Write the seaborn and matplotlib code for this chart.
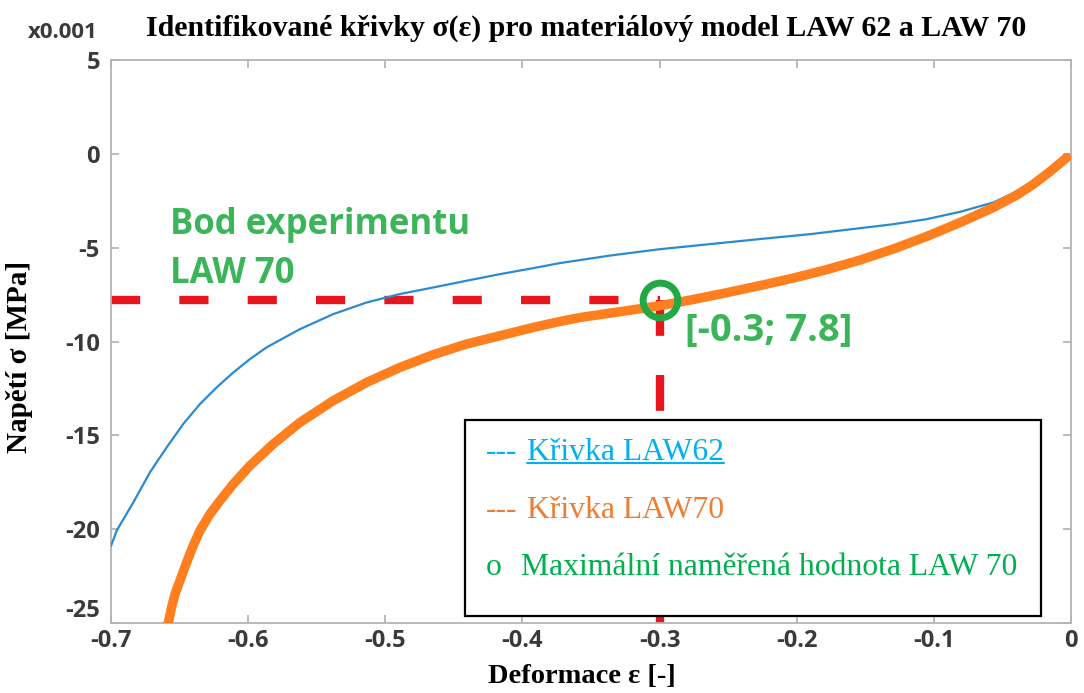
import matplotlib
matplotlib.use("Agg")
import matplotlib.pyplot as plt
from matplotlib.patches import Rectangle
from matplotlib.lines import Line2D
import seaborn as sns
import pandas as pd

# Identified stress-strain curves for LAW 62 and LAW 70
law62_strain = [-0.700, -0.6958, -0.6837, -0.6716, -0.6594, -0.6473, -0.6351,
                -0.6229, -0.6108, -0.5986, -0.5865, -0.5622, -0.5379, -0.5136,
                -0.4893, -0.4650, -0.4406, -0.4163, -0.3921, -0.3726, -0.3580,
                -0.3361, -0.2997, -0.2632, -0.2268, -0.1903, -0.1538, -0.1296,
                -0.1052, -0.0809, -0.0566, -0.0445, -0.0323, -0.0226, -0.0153,
                -0.0031]
law62_stress = [-20.9, -20.07, -18.57, -16.97, -15.64, -14.39, -13.33,
                -12.44, -11.65, -10.93, -10.31, -9.34, -8.54, -7.92,
                -7.47, -7.12, -6.76, -6.41, -6.09, -5.82, -5.66,
                -5.42, -5.08, -4.81, -4.54, -4.28, -3.96, -3.75,
                -3.48, -3.09, -2.59, -2.18, -1.70, -1.26, -0.82,
                -0.11]

law70_strain = [-0.6594, -0.6582, -0.6558, -0.6533, -0.6497, -0.6448, -0.6400,
                -0.6351, -0.6278, -0.6205, -0.6108, -0.5986, -0.5817, -0.5622,
                -0.5379, -0.5136, -0.4893, -0.4650, -0.4406, -0.4163, -0.3921,
                -0.3726, -0.3580, -0.3240, -0.2997, -0.2754, -0.2511, -0.2268,
                -0.2025, -0.1782, -0.1538, -0.1296, -0.1052, -0.0809, -0.0566,
                -0.0396, -0.0274, -0.0153, -0.0031]
law70_stress = [-25.3, -24.96, -24.16, -23.45, -22.74, -21.76, -20.87,
                -20.07, -19.19, -18.48, -17.59, -16.61, -15.46, -14.31,
                -13.15, -12.18, -11.38, -10.70, -10.13, -9.69, -9.25,
                -8.93, -8.72, -8.36, -8.09, -7.76, -7.40, -7.02,
                -6.62, -6.17, -5.66, -5.07, -4.40, -3.66, -2.86,
                -2.20, -1.62, -0.94, -0.20]

# Maximum measured value for LAW 70: [strain; |stress|]
exp_strain = -0.3
exp_stress_abs = 7.8

x_ticks = [-0.7, -0.6, -0.5, -0.4, -0.3, -0.2, -0.1, 0]
x_tick_labels = ["-0.7", "-0.6", "-0.5", "-0.4", "-0.3", "-0.2", "-0.1", "0"]
y_ticks = [-25, -20, -15, -10, -5, 0, 5]
y_tick_labels = ["-25", "-20", "-15", "-10", "-5", "0", "5"]

sns.set_theme(style="white")
plt.rcParams["axes.unicode_minus"] = False
plt.rcParams["font.family"] = ["DejaVu Sans"]

df62 = pd.DataFrame({"strain": law62_strain, "stress": law62_stress})
df70 = pd.DataFrame({"strain": law70_strain, "stress": law70_stress})

fig = plt.figure(figsize=(10.84, 6.93), dpi=100)
ax = fig.add_axes([0.1024, 0.101, 0.8856, 0.8124])

sns.lineplot(data=df62, x="strain", y="stress", ax=ax, color="#2b8ad0",
             linewidth=1.6, sort=False, zorder=3)
sns.lineplot(data=df70, x="strain", y="stress", ax=ax, color="#ff7f1e",
             linewidth=6.8, sort=False, zorder=4, solid_capstyle="round",
             solid_joinstyle="round")

exp_stress = -exp_stress_abs
red = "#e8141e"
ax.plot([-0.7, exp_strain], [exp_stress, exp_stress], color=red, lw=6,
        dashes=(3.5, 4.7), dash_capstyle="butt", zorder=2)
ax.plot([exp_strain, exp_strain], [exp_stress, -25], color=red, lw=6,
        dashes=(4.3, 4.7), dash_capstyle="butt", zorder=2)
ax.plot([exp_strain], [exp_stress], marker="o", ms=25, mfc="none",
        mec="#22a845", mew=5, zorder=6, clip_on=False)

ax.set_xlim(-0.7, 0)
ax.set_ylim(-25, 5)
ax.set_xticks(x_ticks)
ax.set_xticklabels(x_tick_labels)
ax.set_yticks(y_ticks)
ax.set_yticklabels(y_tick_labels)

for lab in ax.get_xticklabels() + ax.get_yticklabels():
    lab.set_fontfamily("Open Sans")
    lab.set_fontweight("bold")
    lab.set_fontsize(17)
    lab.set_color("#3a3a3a")
# lift the lowest stress label clear of the strain labels
ax.get_yticklabels()[0].set_verticalalignment("bottom")

ax.tick_params(axis="both", direction="in", length=6, width=1.1,
               color="#a8a8a8", top=True, right=True, bottom=True, left=True)
ax.tick_params(axis="y", pad=8)
ax.tick_params(axis="x", pad=4)
for sp in ax.spines.values():
    sp.set_color("#b4b4b4")
    sp.set_linewidth(1.3)

serif = "Liberation Serif"
ax.set_xlabel("Deformace ε [-]", fontfamily=serif, fontweight="bold",
              fontsize=20.5, color="black")
ax.xaxis.set_label_coords(0.4906, -0.073)
ax.set_ylabel("Napětí σ [MPa]", fontfamily=serif, fontweight="bold",
              fontsize=21, color="black")
ax.yaxis.set_label_coords(-0.081, 0.4725)
fig.text(0.541, 0.9596, "Identifikované křivky σ(ε) pro materiálový model LAW 62 a LAW 70",
         ha="center", va="center", fontfamily=serif, fontweight="bold",
         fontsize=21.5, color="black")
fig.text(0.026, 0.953, "x0.001", ha="left", va="center", fontfamily="Open Sans",
         fontweight="bold", fontsize=16, color="#3a3a3a")

green_txt = "#3cb45a"
ax.text(-0.657, -5.1, "Bod experimentu\nLAW 70", ha="left", va="center",
        fontfamily="Open Sans", fontweight="bold", fontsize=25,
        color=green_txt, linespacing=1.45, zorder=7)
ax.text(-0.2815, -9.42, "[-0.3; 7.8]", ha="left", va="center",
        fontfamily="Open Sans", fontweight="bold", fontsize=27.5,
        color=green_txt, zorder=7)

# Text box with the curve descriptions
def fx(px):
    return (px - 111) / 960.0

def fy(py):
    return (623 - py) / 563.0

box = Rectangle((fx(465), fy(616)), fx(1041) - fx(465), fy(420) - fy(616),
                transform=ax.transAxes, facecolor="white", edgecolor="black",
                linewidth=1.6, zorder=8)
ax.add_patch(box)

leg_size = 22.8
blue_txt = "#00b0f0"
orange_txt = "#ed7d31"
green_leg = "#00b050"
ax.text(fx(486), fy(452), "---", transform=ax.transAxes, ha="left", va="center",
        fontfamily=serif, fontsize=leg_size, color=blue_txt, zorder=9)
t62 = ax.text(fx(527), fy(452), "Křivka LAW62", transform=ax.transAxes, ha="left",
              va="center", fontfamily=serif, fontsize=leg_size, color=blue_txt, zorder=9)
ax.text(fx(486), fy(510), "---", transform=ax.transAxes, ha="left", va="center",
        fontfamily=serif, fontsize=leg_size, color=orange_txt, zorder=9)
ax.text(fx(527), fy(510), "Křivka LAW70", transform=ax.transAxes, ha="left",
        va="center", fontfamily=serif, fontsize=leg_size, color=orange_txt, zorder=9)
ax.text(fx(486), fy(567), "o", transform=ax.transAxes, ha="left", va="center",
        fontfamily=serif, fontsize=leg_size, color=green_leg, zorder=9)
ax.text(fx(521), fy(567), "Maximální naměřená hodnota LAW 70", transform=ax.transAxes,
        ha="left", va="center", fontfamily=serif, fontsize=leg_size,
        color=green_leg, zorder=9)

# underline under the LAW62 label
fig.canvas.draw()
bb = t62.get_window_extent(renderer=fig.canvas.get_renderer())
inv = ax.transAxes.inverted()
(x0, _), (x1, _) = inv.transform([(bb.x0, 0), (bb.x1, 0)])
y_ul = fy(463)
ax.add_line(Line2D([x0, x1], [y_ul, y_ul], transform=ax.transAxes,
                   color=blue_txt, linewidth=1.5, zorder=9))

fig.savefig("out.png", dpi=100)
